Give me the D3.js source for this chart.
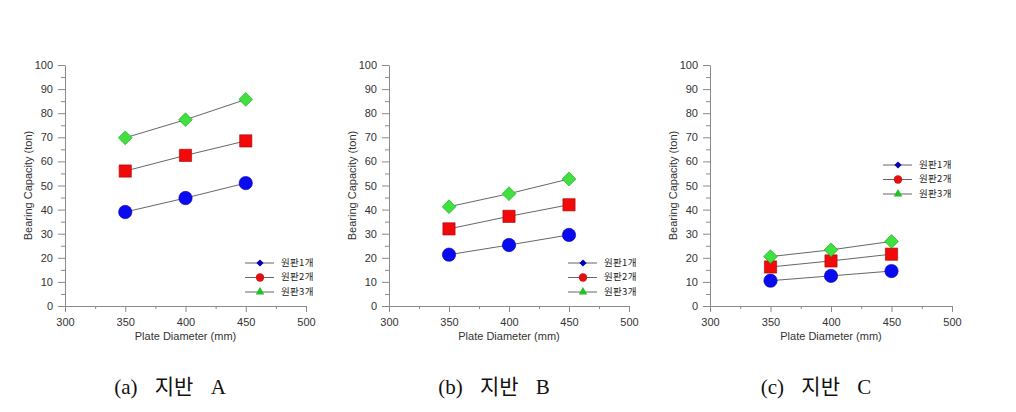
<!DOCTYPE html>
<html>
<head>
<meta charset="utf-8">
<script src="https://cdn.jsdelivr.net/npm/d3@7"></script>
<style>
  html, body { margin: 0; padding: 0; background: #fff; }
  svg { display: block; }
</style>
</head>
<body>
<svg id="chart" width="1016" height="412"></svg>
<script>
// ---- data ----
const diameters = [350, 400, 450];
const xTicks = [300, 350, 400, 450, 500];
const yTicks = [0, 10, 20, 30, 40, 50, 60, 70, 80, 90, 100];
const seriesNames = ["원판1개", "원판2개", "원판3개"];
const captions = ["(a) 지반 A", "(b) 지반 B", "(c) 지반 C"];

// ground A
const groundA_plate1 = [39, 44.8, 51];
const groundA_plate2 = [56, 62.5, 68.5];
const groundA_plate3 = [69.8, 77.3, 85.7];
// ground B
const groundB_plate1 = [21.3, 25.3, 29.5];
const groundB_plate2 = [32, 37.2, 42];
const groundB_plate3 = [41.2, 46.6, 52.7];
// ground C
const groundC_plate1 = [10.5, 12.5, 14.5];
const groundC_plate2 = [16.2, 18.7, 21.5];
const groundC_plate3 = [20.5, 23.3, 26.8];

const panelsData = [
  [groundA_plate1, groundA_plate2, groundA_plate3],
  [groundB_plate1, groundB_plate2, groundB_plate3],
  [groundC_plate1, groundC_plate2, groundC_plate3]
];

// ---- layout ----
const svg = d3.select("#chart");
const panels = [
  { x0: 65, x1: 306, legend: { x: 245, y: 263 }, cap: 170 },
  { x0: 389, x1: 629, legend: { x: 568, y: 263 }, cap: 494 },
  { x0: 710, x1: 952, legend: { x: 883, y: 165 }, cap: 816 }
];
const yTop = 65, yBot = 306;

const markerFill = ["#0a0af0", "#f00a0a", "#3fe03f"];
const markerStroke = ["#0000b0", "#b00000", "#20a020"];
const legendFill = ["#0000b8", "#e01010", "#22c022"];
const axisColor = "#8a8a8a";
const textColor = "#333";
const font = "'Liberation Sans', Arial, sans-serif";

panels.forEach((p, pi) => {
  const g = svg.append("g");
  const x = d3.scaleLinear().domain([300, 500]).range([p.x0, p.x1]);
  const y = d3.scaleLinear().domain([0, 100]).range([yBot, yTop]);

  // minor ticks
  const yMinor = g.append("g").attr("transform", `translate(${p.x0},0)`)
    .call(d3.axisLeft(y).tickValues(d3.range(5, 100, 10)).tickSize(4).tickFormat(""));
  const xMinor = g.append("g").attr("transform", `translate(0,${yBot})`)
    .call(d3.axisBottom(x).tickValues(d3.range(325, 500, 50)).tickSize(3).tickFormat(""));
  [yMinor, xMinor].forEach(a => { a.select(".domain").remove(); a.selectAll("line").attr("stroke", axisColor); });

  // major axes
  const ya = g.append("g").attr("transform", `translate(${p.x0},0)`)
    .call(d3.axisLeft(y).tickValues(yTicks).tickSize(7).tickSizeOuter(0).tickPadding(5));
  const xa = g.append("g").attr("transform", `translate(0,${yBot})`)
    .call(d3.axisBottom(x).tickValues(xTicks).tickSize(6).tickSizeOuter(0).tickPadding(6));
  [ya, xa].forEach(a => {
    a.select(".domain").attr("stroke", axisColor);
    a.selectAll("line").attr("stroke", axisColor);
    a.selectAll("text").attr("fill", textColor).style("font-family", font).style("font-size", "11px");
  });

  // axis titles
  g.append("text")
    .attr("transform", `translate(${p.x0 - 36},${(yTop + yBot) / 2}) rotate(-90)`)
    .attr("text-anchor", "middle").attr("dominant-baseline", "middle")
    .attr("fill", textColor).style("font-family", font).style("font-size", "11px")
    .text("Bearing Capacity (ton)");
  g.append("text")
    .attr("x", (p.x0 + p.x1) / 2).attr("y", 340)
    .attr("text-anchor", "middle")
    .attr("fill", textColor).style("font-family", font).style("font-size", "11px")
    .text("Plate Diameter (mm)");

  // series
  const line = d3.line().x((d, i) => x(diameters[i])).y(d => y(d));
  panelsData[pi].forEach((vals, si) => {
    g.append("path").datum(vals).attr("d", line)
      .attr("fill", "none").attr("stroke", "#555").attr("stroke-width", 0.9);
    const sym = [d3.symbolCircle, d3.symbolSquare, d3.symbolSquare][si];
    const size = [140, 150, 95][si];
    const rot = si === 2 ? 45 : 0;
    g.selectAll(null).data(vals).enter().append("path")
      .attr("transform", (d, i) => `translate(${x(diameters[i])},${y(d)}) rotate(${rot})`)
      .attr("d", d3.symbol().type(sym).size(size))
      .attr("fill", markerFill[si]).attr("stroke", markerStroke[si]).attr("stroke-width", 0.6);
  });

  // legend
  const lg = g.append("g").attr("transform", `translate(${p.legend.x},${p.legend.y})`);
  seriesNames.forEach((name, si) => {
    const row = lg.append("g").attr("transform", `translate(0,${si * 14.5})`);
    row.append("line").attr("x1", 0).attr("x2", 29).attr("y1", 0).attr("y2", 0)
      .attr("stroke", "#555").attr("stroke-width", 0.9);
    const sym = [d3.symbolSquare, d3.symbolCircle, d3.symbolTriangle][si];
    const size = [26, 55, 32][si];
    const rot = si === 0 ? 45 : 0;
    row.append("path").attr("transform", `translate(15,0) rotate(${rot})`)
      .attr("d", d3.symbol().type(sym).size(size)).attr("fill", legendFill[si]);
    row.append("text").attr("x", 36).attr("y", 0).attr("dominant-baseline", "middle")
      .attr("fill", "#222").style("font-family", "'Noto Sans CJK KR', sans-serif").style("font-size", "9.5px")
      .style("letter-spacing", "0.3px")
      .text(name);
  });

  // caption
  svg.append("text")
    .attr("x", p.cap).attr("y", 394).attr("text-anchor", "middle")
    .attr("fill", "#111")
    .style("font-family", "'Liberation Serif', 'Noto Sans CJK KR', serif").style("font-size", "21px")
    .style("word-spacing", "12px")
    .text(captions[pi]);
});
</script>
</body>
</html>
